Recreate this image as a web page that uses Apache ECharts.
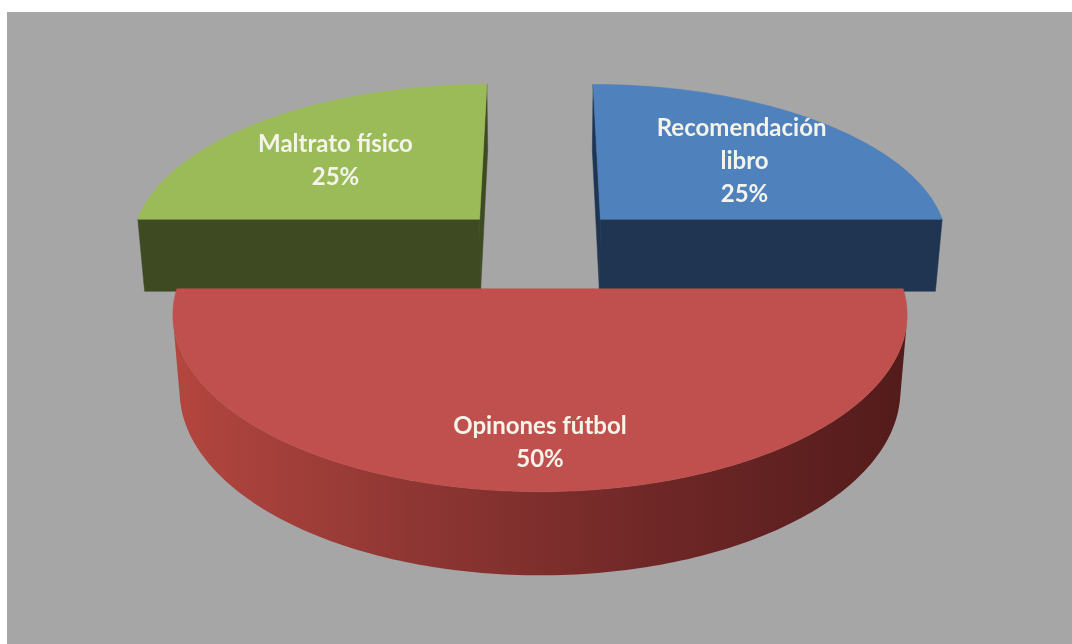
<!DOCTYPE html>
<html>
<head>
<meta charset="utf-8">
<script src="https://cdn.jsdelivr.net/npm/echarts@6/dist/echarts.min.js"></script>
<style>
  html, body { margin: 0; padding: 0; background: #ffffff; }
  #chart { position: absolute; left: 7px; top: 12px; width: 1065px; height: 632px; }
</style>
</head>
<body>
<div id="chart"></div>
<script>
// Slices, clockwise from 12 o'clock
const categories = ['Recomendación libro', 'Opinones fútbol', 'Maltrato físico'];
const values = [25, 50, 25];

// Face colours per slice: top, flat cut faces, curved rim gradient
const palette = [
  { top: '#4f81bd', side: '#1f3552', rim: ['#2b4a6f', '#172a41'] },
  { top: '#c0504d', side: '#7a2c2a', rim: ['#b4463f', '#8e3633', '#6e2726', '#531b1b'] },
  { top: '#9bbb59', side: '#3e4a22', rim: ['#56672f', '#36411d'] }
];

// Simple perspective camera looking down on a unit-radius disc
const view = {
  cx: 533, cy: 235,     // screen position of the disc centre (px)
  focal: 2200,          // focal length (px)
  dist: 6.28,           // camera distance (disc radii)
  tilt: Math.asin(0.46),// camera elevation
  thick: 0.24,          // disc thickness (radii)
  explode: 0.25         // radial offset of every slice (radii)
};
const sinT = Math.sin(view.tilt), cosT = Math.cos(view.tilt);

function project(X, Y, Z) {
  const pu = Y * cosT - Z * sinT;
  const pv = Y * sinT + Z * cosT;
  const d = view.dist - pv;
  return [view.cx + view.focal * X / d, view.cy - view.focal * pu / d];
}

const total = values.reduce((a, b) => a + b, 0);
const slices = [];
let acc = 0;
values.forEach((v, i) => {
  const a0 = acc / total * Math.PI * 2;
  acc += v;
  const a1 = acc / total * Math.PI * 2;
  slices.push({ a0, a1, mid: (a0 + a1) / 2, share: v / total });
});

function renderItem(params, api) {
  const i = params.dataIndex;
  const sl = slices[i];
  const col = palette[i];
  const e = view.explode;
  const ox = e * Math.sin(sl.mid), oz = -e * Math.cos(sl.mid);
  const P = (th, r, y) => project(ox + r * Math.sin(th), y, oz - r * Math.cos(th));
  const t = view.thick;
  // slices nearer the viewer are stacked above farther ones
  const depthRank = Math.round((-Math.cos(sl.mid) + 1) * 10);
  const children = [];

  // outer rim: only the parts turned toward the camera
  const steps = Math.max(8, Math.ceil((sl.a1 - sl.a0) / (Math.PI / 180)));
  const camZ = view.dist * cosT;
  const visible = th => (-camZ * Math.cos(th) - (ox * Math.sin(th) - oz * Math.cos(th)) - 1) > 0;
  let run = [];
  const flush = () => {
    if (run.length > 1) {
      const pts = run.map(th => P(th, 1, 0)).concat(run.slice().reverse().map(th => P(th, 1, -t)));
      const stops = col.rim.map((c, k) => ({ offset: k / (col.rim.length - 1), color: c }));
      children.push({
        type: 'polygon', z2: depthRank * 10 + 1,
        shape: { points: pts },
        style: { fill: new echarts.graphic.LinearGradient(0, 0, 1, 0, stops), stroke: null }
      });
    }
    run = [];
  };
  for (let k = 0; k <= steps; k++) {
    const th = sl.a0 + (sl.a1 - sl.a0) * k / steps;
    if (visible(th)) run.push(th); else flush();
  }
  flush();

  // flat cut faces at both ends of the slice
  const camRel = [-ox, view.dist * sinT, camZ - oz];
  [[sl.a0, -1], [sl.a1, 1]].forEach(([th, sgn]) => {
    const n = [sgn * Math.cos(th), 0, sgn * Math.sin(th)];
    if (camRel[0] * n[0] + camRel[2] * n[2] > 0) {
      children.push({
        type: 'polygon', z2: depthRank * 10 + 1,
        shape: { points: [P(th, 0, 0), P(th, 1, 0), P(th, 1, -t), P(th, 0, -t)] },
        style: { fill: col.side, stroke: col.side, lineWidth: 0.5 }
      });
    }
  });

  // top face
  const topPts = [P(0, 0, 0)];
  for (let k = 0; k <= steps; k++) topPts.push(P(sl.a0 + (sl.a1 - sl.a0) * k / steps, 1, 0));
  children.push({
    type: 'polygon', z2: depthRank * 10 + 2,
    shape: { points: topPts },
    style: { fill: col.top, stroke: col.top, lineWidth: 0.5 }
  });

  // data label on the top face
  const lr = 0.55 + 0.4 * sl.share;
  const lp = P(sl.mid, lr, 0);
  const pct = Math.round(api.value(0) / total * 100) + '%';
  children.push({
    type: 'text', z2: 500,
    x: lp[0], y: lp[1] + 8,
    style: {
      text: categories[i] + '\n' + pct,
      width: 205, overflow: 'break',
      align: 'center', verticalAlign: 'middle',
      fontFamily: 'Lato, "Open Sans", sans-serif', fontWeight: 'bold',
      fontSize: 24, lineHeight: 33,
      fill: '#f4f4ea'
    }
  });

  return { type: 'group', children };
}

const chart = echarts.init(document.getElementById('chart'), null, { renderer: 'canvas' });
chart.setOption({
  backgroundColor: '#a6a6a6',
  animation: false,
  series: [{
    type: 'custom',
    coordinateSystem: 'none',
    renderItem,
    data: values.map((v, i) => ({ name: categories[i], value: [v] }))
  }]
});
</script>
</body>
</html>
